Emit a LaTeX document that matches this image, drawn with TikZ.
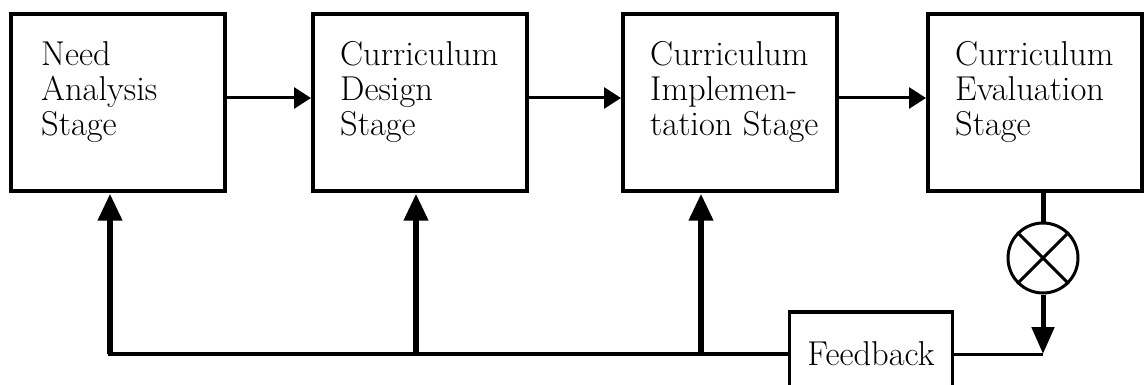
\documentclass[tikz,border=0pt]{standalone}
\usetikzlibrary{arrows.meta}
\begin{document}
\begin{tikzpicture}[x=1pt,y=-1pt,
  stagebox/.style={draw, line width=4pt, minimum width=214pt, minimum height=177pt, inner sep=0pt},
  stagetext/.style={anchor=north west, inner sep=0pt, align=left, font=\fontsize{34.5}{35}\selectfont},
  fbbox/.style={draw, line width=3.5pt, minimum width=163pt, minimum height=84pt, inner sep=0pt, font=\fontsize{34.5}{35}\selectfont},
  flow/.style={line width=3pt, -{Triangle[length=17pt,width=21pt]}},
  rise/.style={line width=6.5pt, -{Triangle[length=27pt,width=23pt]}},
  bus/.style={line width=4pt, line cap=rect},
]
\useasboundingbox (0,0) rectangle (1144,385);
\clip (0,0) rectangle (1144,385);

% stage boxes
\node[stagebox] (need)   at (118,103)  {};
\node[stagebox] (design) at (420,103)  {};
\node[stagebox] (impl)   at (730,103)  {};
\node[stagebox] (eval)   at (1035,103) {};

% stage labels
\node[stagetext] (needtxt)   at ([shift={(32,29)}]need.north west)   {Need\\Analysis\\Stage};
\node[stagetext] (designtxt) at ([shift={(29,29)}]design.north west) {Curriculum\\Design\\Stage};
\node[stagetext] (impltxt)   at ([shift={(29,29)}]impl.north west)   {Curriculum\\Implemen-\\tation Stage};
\node[stagetext] (evaltxt)   at ([shift={(29,29)}]eval.north west)   {Curriculum\\Evaluation\\Stage};

% comparator and feedback block
\node[circle, draw, line width=3pt, minimum size=70pt, inner sep=0pt] (sum) at (1043,258) {};
\draw[line width=3pt] (sum.45) -- (sum.225) (sum.135) -- (sum.315);
\node[fbbox] (feedback) at (871,354) {Feedback};

% feedback routing points
\coordinate (fbl) at (110,354);
\coordinate (j2)  at (416,354);
\coordinate (j3)  at (701,354);
\coordinate (fbr) at (1043,354);

% forward flow between stages
\draw[flow] ([yshift=5pt]need.east)   -- ([yshift=5pt]design.west);
\draw[flow] ([yshift=5pt]design.east) -- ([yshift=5pt]impl.west);
\draw[flow] ([yshift=5pt]impl.east)   -- ([yshift=5pt]eval.west);

% evaluation output through the comparator
\draw[line width=5pt] (eval.south -| sum) -- (sum.north);
\draw[line width=5pt, -{Triangle[length=27pt,width=22pt]}] (sum.south) -- (fbr);
\draw[line width=3pt] (feedback.east) -- (fbr);

% feedback bus back to the stages
\draw[bus] (feedback.west) -- (fbl);
\draw[rise] (fbl) -- (fbl |- need.south);
\draw[rise] (j2) -- (j2 |- design.south);
\draw[rise] (j3) -- (j3 |- impl.south);
\end{tikzpicture}
\end{document}
